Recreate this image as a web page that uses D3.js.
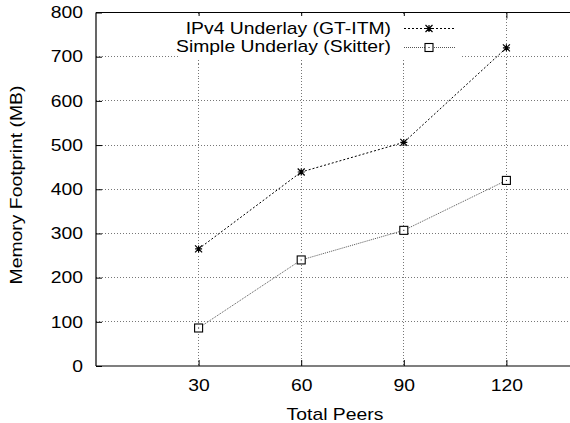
<!DOCTYPE html>
<html><head><meta charset="utf-8">
<script src="https://cdn.jsdelivr.net/npm/d3@7"></script>
<style>body{margin:0;background:#fff}svg{display:block}text{font-family:"Liberation Sans",Arial,sans-serif;fill:#000}</style>
</head><body><svg id="c" width="570" height="423"></svg>
<script>
const peers = [30, 60, 90, 120];
const ipv4 = [265, 439, 506, 720];
const simple = [86, 240, 307, 420];
const yTicks = [0, 100, 200, 300, 400, 500, 600, 700, 800];
const xTicks = [30, 60, 90, 120];
const seriesNames = ["IPv4 Underlay (GT-ITM)", "Simple Underlay (Skitter)"];

const svg = d3.select("#c");
const L = 96, T = 12.5, B = 366;
const x = d3.scaleLinear().domain([0, 150]).range([L, L + 150 * (102.6 / 30)]);
const y = d3.scaleLinear().domain([0, 800]).range([B, T]);
const W = 570;
const FS = 16.4;

// grid
const g = svg.append("g");
g.selectAll(".hg").data(yTicks.filter(d => d > 0 && d < 800)).join("line")
  .attr("x1", L).attr("x2", W).attr("y1", d => y(d)).attr("y2", d => y(d))
  .attr("stroke", "#777").attr("stroke-width", 1).attr("stroke-dasharray", "1,2").attr("shape-rendering", "crispEdges");
g.selectAll(".vg").data(xTicks).join("line")
  .attr("x1", d => x(d)).attr("x2", d => x(d)).attr("y1", T).attr("y2", B)
  .attr("stroke", "#777").attr("stroke-width", 1).attr("stroke-dasharray", "1,2").attr("shape-rendering", "crispEdges");

// axes
const yAxis = d3.axisLeft(y).tickValues(yTicks).tickSize(-6).tickPadding(13);
const ya = svg.append("g").attr("transform", `translate(${L},0)`).call(yAxis);
const xAxis = d3.axisBottom(x).tickValues(xTicks).tickSize(-6).tickPadding(13);
const xa = svg.append("g").attr("transform", `translate(0,${B})`).call(xAxis);
const xTop = d3.axisTop(x).tickValues(xTicks).tickSize(-6).tickFormat("");
const xt = svg.append("g").attr("transform", `translate(0,${T})`).call(xTop);
[ya, xa, xt].forEach(a => {
  a.select(".domain").remove();
  a.selectAll("line").attr("stroke", "#000");
  a.selectAll("text").attr("font-size", FS).attr("font-family", "Liberation Sans, Arial, sans-serif").attr("fill", "#000");
});
svg.append("line").attr("x1", L).attr("x2", W).attr("y1", B).attr("y2", B).attr("stroke", "#000").attr("stroke-width", 1.2);
svg.append("line").attr("x1", L).attr("x2", W).attr("y1", T).attr("y2", T).attr("stroke", "#000").attr("stroke-width", 1.2);
svg.append("line").attr("x1", L).attr("x2", L).attr("y1", T).attr("y2", B).attr("stroke", "#000").attr("stroke-width", 1.2);

// labels
svg.append("text").attr("x", 335).attr("y", 420).attr("text-anchor", "middle").attr("font-size", FS).text("Total Peers");
svg.append("text").attr("transform", "translate(22,185) rotate(-90)").attr("text-anchor", "middle").attr("font-size", FS).text("Memory Footprint (MB)");

// series
const line = d3.line().x(d => x(d[0])).y(d => y(d[1]));
const d1 = peers.map((p, i) => [p, ipv4[i]]);
const d2 = peers.map((p, i) => [p, simple[i]]);
svg.append("path").attr("d", line(d1)).attr("fill", "none").attr("stroke", "#000").attr("stroke-width", 1).attr("stroke-dasharray", "2,2");
svg.append("path").attr("d", line(d2)).attr("fill", "none").attr("stroke", "#555").attr("stroke-width", 1).attr("stroke-dasharray", "1,1");

function star(sel, cx, cy) {
  const r = 3.5;
  sel.append("path").attr("d", `M${cx - r},${cy}H${cx + r}M${cx},${cy - r}V${cy + r}M${cx - r},${cy - r}L${cx + r},${cy + r}M${cx - r},${cy + r}L${cx + r},${cy - r}`)
    .attr("stroke", "#000").attr("stroke-width", 1.2).attr("fill", "none");
}
function square(sel, cx, cy) {
  sel.append("rect").attr("x", cx - 4).attr("y", cy - 4).attr("width", 8).attr("height", 8)
    .attr("fill", "#fff").attr("stroke", "#000").attr("stroke-width", 1.1);
  sel.append("rect").attr("x", cx - 0.5).attr("y", cy - 0.5).attr("width", 1).attr("height", 1).attr("fill", "#000");
}
d1.forEach(d => star(svg, x(d[0]), y(d[1])));
d2.forEach(d => square(svg, x(d[0]), y(d[1])));

// legend
const legY = [28.5, 47.5];
const legBase = [34, 52];
svg.append("rect").attr("x", 180).attr("y", 16).attr("width", 280).attr("height", 42).attr("fill", "#fff");
seriesNames.forEach((n, i) => {
  svg.append("text").attr("x", 391).attr("y", legBase[i]).attr("text-anchor", "end").attr("font-size", FS).text(n);
  svg.append("line").attr("x1", 404).attr("x2", 455).attr("y1", legY[i]).attr("y2", legY[i])
    .attr("stroke", i ? "#555" : "#000").attr("stroke-dasharray", i ? "1,1" : "2,2");
  if (i) square(svg, 429, legY[i]); else star(svg, 429, legY[i]);
});

// widen glyphs horizontally like the reference rendering
svg.selectAll("text").each(function () {
  const w = this.getComputedTextLength();
  if (w > 0) d3.select(this).attr("textLength", w * 1.18).attr("lengthAdjust", "spacingAndGlyphs");
});
</script></body></html>
